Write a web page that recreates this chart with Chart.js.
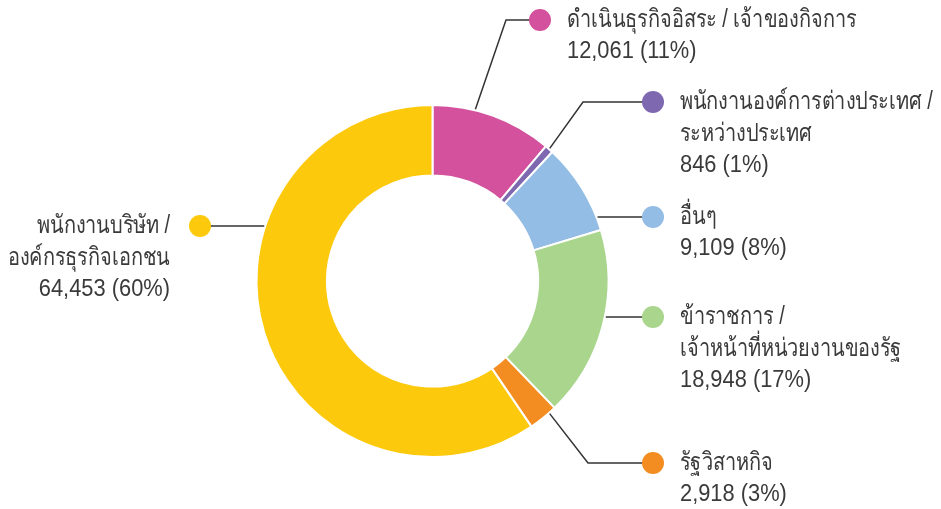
<!DOCTYPE html>
<html lang="th">
<head>
  <meta charset="UTF-8" />
  <title>Doughnut</title>
  <script src="https://cdn.jsdelivr.net/npm/chart.js"></script>
  <style>
    html, body { margin: 0; padding: 0; background: #ffffff; }
    #wrap { width: 941px; height: 509px; position: relative; }
  </style>
</head>
<body>
  <div id="wrap"><canvas id="donut"></canvas></div>

  <script>
    // data
    const categories = [
      ['ดำเนินธุรกิจอิสระ / เจ้าของกิจการ'],
      ['พนักงานองค์การต่างประเทศ /', 'ระหว่างประเทศ'],
      ['อื่นๆ'],
      ['ข้าราชการ /', 'เจ้าหน้าที่หน่วยงานของรัฐ'],
      ['รัฐวิสาหกิจ'],
      ['พนักงานบริษัท /', 'องค์กรธุรกิจเอกชน']
    ];
    const counts = [12061, 846, 9109, 18948, 2918, 64453];
    const percents = ['11%', '1%', '8%', '17%', '3%', '60%'];
    const sliceColors = ['#d4529d', '#7e69b1', '#93bde5', '#a9d58d', '#f48d21', '#fdc90c'];

    // where each label sits (dot centre, optional elbow, anchor position along the arc)
    const labelLayout = [
      { dot: [540, 20], elbow: [506, 20], frac: 0.35, side: 'right' },
      { dot: [653, 102], elbow: [583, 102], frac: 0.5, side: 'right' },
      { dot: [653, 217], side: 'right' },
      { dot: [653, 317], side: 'right' },
      { dot: [653, 463], elbow: [588, 463], frac: 0.25, side: 'right' },
      { dot: [200, 226], side: 'left' }
    ];

    const FAMILY = '"Liberation Sans", "Noto Sans", "DejaVu Sans", sans-serif';
    const LINE_H = 32;
    const isThai = s => /[\u0E00-\u0E7F]/.test(s);

    // reference type is a condensed face, so squeeze the text horizontally
    function drawLine(ctx, text, x, y, align) {
      const thai = isThai(text);
      ctx.font = (thai ? 25 : 23) + 'px ' + FAMILY;
      const sx = thai ? 0.8 : 0.95;
      ctx.save();
      ctx.translate(x, y);
      ctx.scale(sx, 1);
      ctx.textAlign = align;
      ctx.fillText(text, 0, 0);
      ctx.restore();
    }

    const calloutPlugin = {
      id: 'callouts',
      afterDatasetsDraw(chart) {
        const ctx = chart.ctx;
        const arcs = chart.getDatasetMeta(0).data;
        ctx.save();
        arcs.forEach((arc, i) => {
          const lay = labelLayout[i];
          const cx = arc.x, cy = arc.y;
          const R = arc.outerRadius + 1;
          const [dx, dy] = lay.dot;
          let ax, ay;
          if (lay.elbow) {
            const a = arc.startAngle + lay.frac * (arc.endAngle - arc.startAngle);
            ax = cx + R * Math.cos(a);
            ay = cy + R * Math.sin(a);
          } else {
            const off = Math.sqrt(Math.max(R * R - (dy - cy) * (dy - cy), 0));
            ax = lay.side === 'right' ? cx + off : cx - off;
            ay = dy;
          }
          // leader line
          ctx.strokeStyle = '#333333';
          ctx.lineWidth = 1.5;
          ctx.beginPath();
          ctx.moveTo(ax, ay);
          if (lay.elbow) ctx.lineTo(lay.elbow[0], lay.elbow[1]);
          ctx.lineTo(dx, dy);
          ctx.stroke();
          // dot
          ctx.fillStyle = sliceColors[i];
          ctx.beginPath();
          ctx.arc(dx, dy, 11, 0, Math.PI * 2);
          ctx.fill();
          // text
          const lines = categories[i].concat([counts[i].toLocaleString('en-US') + ' (' + percents[i] + ')']);
          ctx.fillStyle = '#3a3a3a';
          ctx.textBaseline = 'middle';
          const align = lay.side === 'right' ? 'left' : 'right';
          const tx = lay.side === 'right' ? dx + 27 : dx - 30;
          lines.forEach((t, k) => drawLine(ctx, t, tx, dy + k * LINE_H, align));
        });
        ctx.restore();
      }
    };

    new Chart(document.getElementById('donut'), {
      type: 'doughnut',
      data: {
        labels: categories.map(c => c.join(' ')),
        datasets: [{
          data: counts,
          backgroundColor: sliceColors,
          borderColor: '#ffffff',
          borderWidth: 2,
          hoverOffset: 0
        }]
      },
      options: {
        responsive: true,
        maintainAspectRatio: false,
        animation: false,
        cutout: '60%',
        layout: { padding: { left: 255.5, right: 331.5, top: 104, bottom: 51 } },
        plugins: {
          legend: { display: false },
          tooltip: { enabled: false }
        }
      },
      plugins: [calloutPlugin]
    });
  </script>
</body>
</html>
